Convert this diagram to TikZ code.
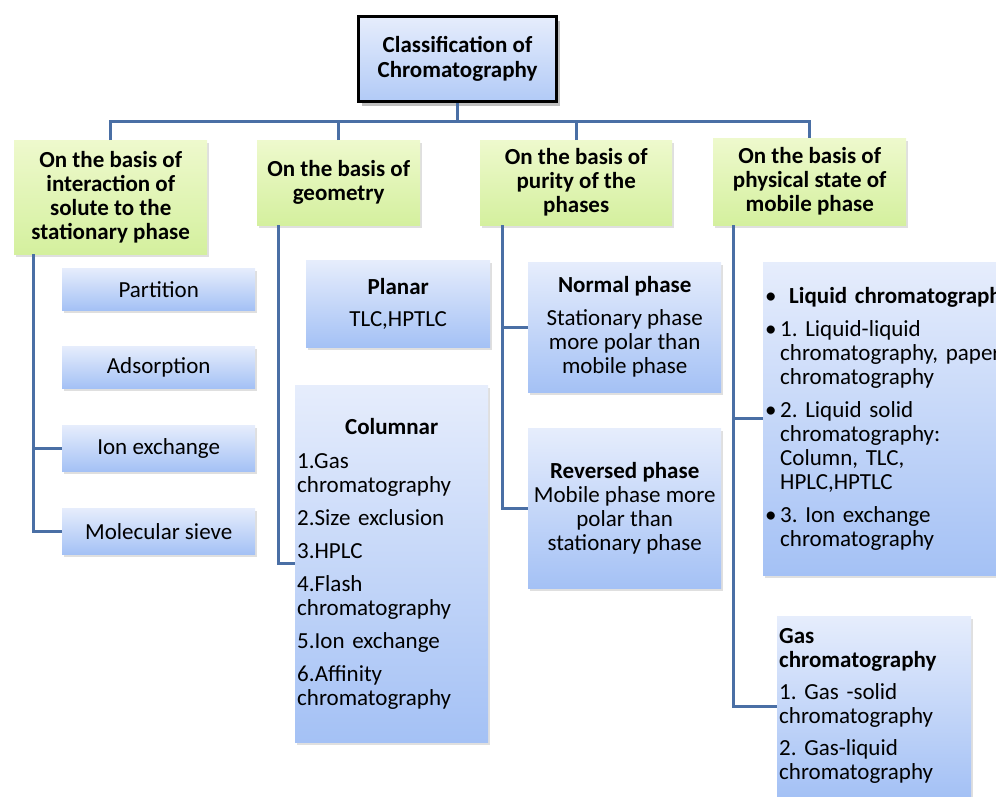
\documentclass[tikz,border=0pt]{standalone}
\usepackage{fontspec}
\setmainfont{Carlito}
\usetikzlibrary{shadows}
\definecolor{lineblue}{RGB}{74,111,165}
\definecolor{bluetop}{RGB}{230,237,252}
\definecolor{bluebot}{RGB}{164,193,245}
\definecolor{greentop}{RGB}{238,249,205}
\definecolor{greenbot}{RGB}{212,240,158}
\newcommand{\bodyfnt}{\fontsize{23}{24}\selectfont\frenchspacing}
\newcommand{\headfnt}{\fontsize{23}{24}\selectfont\bfseries}
\tikzset{
  conn/.style={draw=lineblue, line width=3pt},
  boxbase/.style={anchor=north west, inner sep=0pt, draw=none,
    drop shadow={opacity=0.25, shadow xshift=1.5pt, shadow yshift=-2.5pt}},
  bluebox/.style={boxbase, top color=bluetop, bottom color=bluebot, font=\bodyfnt, align=center},
  greenbox/.style={boxbase, top color=greentop, bottom color=greenbot, font=\headfnt, align=center},
  titlebox/.style={anchor=north west, inner sep=0pt, draw=black, line width=3pt,
    top color=bluetop, bottom color=bluebot!85!white, font=\headfnt, align=center,
    drop shadow={opacity=0.5, shadow xshift=3pt, shadow yshift=-4pt}},
  listbox/.style={bluebox, align=left, inner xsep=2pt}
}
\begin{document}
\begin{tikzpicture}[x=1pt,y=-1pt]
\useasboundingbox (0,0) rectangle (996,796);
\clip (0,0) rectangle (996,796);

% title
\node[titlebox, minimum width=198pt, minimum height=85pt] (title) at (357,15)
  {Classification of\\[1pt]Chromatography};

% category boxes
\node[greenbox, minimum width=193pt, minimum height=114pt] (h1) at (14,140)
  {On the basis of\\interaction of\\solute to the\\stationary phase};
\node[greenbox, minimum width=163pt, minimum height=85pt] (h2) at (257,140)
  {On the basis of\\geometry};
\node[greenbox, minimum width=192pt, minimum height=85pt] (h3) at (480,140)
  {On the basis of\\purity of the\\phases};
\node[greenbox, minimum width=193pt, minimum height=87pt] (h4) at (713,138)
  {On the basis of\\physical state of\\mobile phase};

% column 1
\node[bluebox, minimum width=193pt, minimum height=42pt] (c11) at (62,268) {Partition};
\node[bluebox, minimum width=193pt, minimum height=42pt] (c12) at (62,346) {Adsorption};
\node[bluebox, minimum width=193pt, minimum height=46pt] (c13) at (62,425) {Ion exchange};
\node[bluebox, minimum width=193pt, minimum height=46pt] (c14) at (62,508) {Molecular sieve};

% column 2
\node[bluebox, minimum width=184pt, minimum height=87pt] (c21) at (306,260)
  {\textbf{Planar}\\[8pt]TLC,HPTLC};
\node[listbox, minimum width=193pt, minimum height=357pt, text width=189pt] (c22) at (295,385)
  {\makebox[189pt][c]{\textbf{Columnar}}\\[10pt]
   1.Gas\\chromatography\\[9pt]
   2.Size exclusion\\[9pt]
   3.HPLC\\[9pt]
   4.Flash\\chromatography\\[9pt]
   5.Ion exchange\\[9pt]
   6.Affinity\\chromatography};

% column 3
\node[bluebox, minimum width=193pt, minimum height=130pt] (c31) at (528,262)
  {\textbf{Normal phase}\\[9pt]Stationary phase\\more polar than\\mobile phase};
\node[bluebox, minimum width=193pt, minimum height=160pt] (c32) at (528,428)
  {\textbf{Reversed phase}\\Mobile phase more\\polar than\\stationary phase};

% column 4
\node[listbox, minimum width=290pt, minimum height=313pt, text width=286pt] (c41) at (763,262)
  {\mbox{\makebox[24pt][l]{•}\textbf{Liquid chromatography}}\\[9pt]
   \makebox[15pt][l]{•}1. Liquid-liquid\\
   \hspace*{15pt}\mbox{chromatography, paper}\\
   \hspace*{15pt}chromatography\\[9pt]
   \makebox[15pt][l]{•}2. Liquid solid\\
   \hspace*{15pt}chromatography:\\
   \hspace*{15pt}Column, TLC,\\
   \hspace*{15pt}HPLC,HPTLC\\[9pt]
   \makebox[15pt][l]{•}3. Ion exchange\\
   \hspace*{15pt}chromatography};
\node[listbox, minimum width=194pt, minimum height=180pt, text width=190pt] (c42) at (777,616)
  {\textbf{Gas}\\\textbf{chromatography}\\[8pt]
   1. Gas -solid\\chromatography\\[8pt]
   2. Gas-liquid\\chromatography};

% connectors: title to categories
\draw[conn] (title.south) -- ++(0,18) coordinate (busC);
\draw[conn] (h1.north) |- (busC) -| (h4.north);
\draw[conn] (h2.north) -- (h2.north |- busC);
\draw[conn] (h3.north) -- (h3.north |- busC);

% connectors: categories to children
\coordinate (v1) at ([xshift=19pt]h1.south west);
\draw[conn] (v1) |- (c13.west);
\draw[conn] (v1) |- (c14.west);
\coordinate (v2) at ([xshift=21pt]h2.south west);
\draw[conn] (v2) |- (c22.west);
\coordinate (v3) at ([xshift=22pt]h3.south west);
\draw[conn] (v3) |- (c31.west);
\draw[conn] (v3) |- (c32.west);
\coordinate (v4) at ([xshift=20pt]h4.south west);
\draw[conn] (v4) |- (c41.west);
\draw[conn] (v4) |- (c42.west);
\end{tikzpicture}
\end{document}
